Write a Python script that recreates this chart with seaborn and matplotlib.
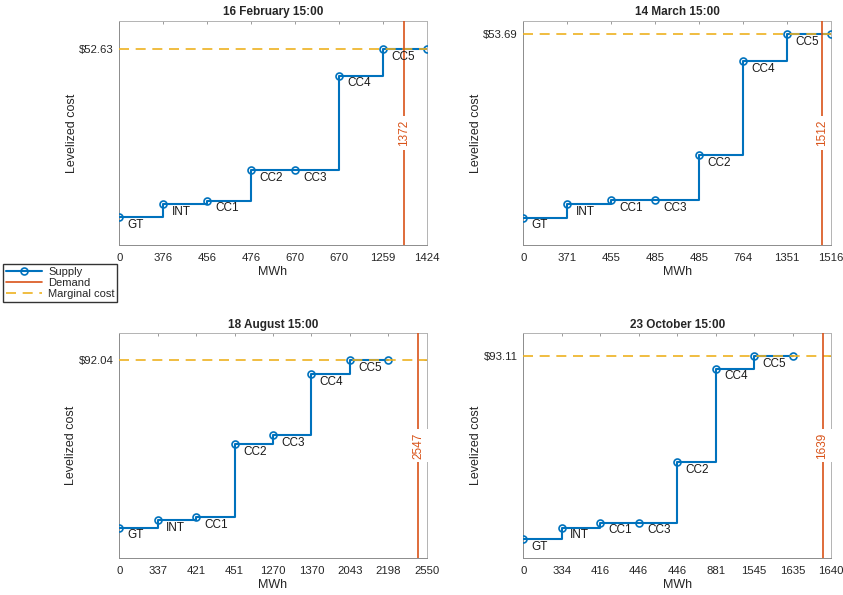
import numpy as np
import pandas as pd
import matplotlib
matplotlib.use("Agg")
import matplotlib.pyplot as plt
from matplotlib.lines import Line2D
import seaborn as sb

sb.set_theme(style="white")
plt.rcParams["font.family"] = ["Liberation Sans", "DejaVu Sans"]

titles = ["16 February 15:00", "14 March 15:00", "18 August 15:00", "23 October 15:00"]

# x tick labels (MWh)
feb_ticks = [0, 376, 456, 476, 670, 670, 1259, 1424]
mar_ticks = [0, 371, 455, 485, 485, 764, 1351, 1516]
aug_ticks = [0, 337, 421, 451, 1270, 1370, 2043, 2198, 2550]
oct_ticks = [0, 334, 416, 446, 446, 881, 1545, 1635, 1640]

# units in merit order
feb_units = ["GT", "INT", "CC1", "CC2", "CC3", "CC4", "CC5"]
mar_units = ["GT", "INT", "CC1", "CC3", "CC2", "CC4", "CC5"]
aug_units = ["GT", "INT", "CC1", "CC2", "CC3", "CC4", "CC5"]
oct_units = ["GT", "INT", "CC1", "CC3", "CC2", "CC4", "CC5"]

# levelized cost per unit
feb_cost = [7.43, 11.01, 11.91, 20.14, 20.14, 45.56, 52.63]
mar_cost = [6.95, 10.43, 11.45, 11.45, 22.90, 46.90, 53.69]
aug_cost = [13.97, 17.54, 18.78, 52.93, 57.12, 85.52, 92.04]
oct_cost = [8.62, 13.85, 16.16, 16.16, 44.02, 87.27, 93.11]

demand = [1372, 1512, 2547, 1639]
demand_pos = [6.49, 6.79, 7.78, 7.78]  # position of demand line on the tick axis
marginal = [52.63, 53.69, 92.04, 93.11]
ytop = [60.24, 57.08, 104.46, 103.58]

ticks = [feb_ticks, mar_ticks, aug_ticks, oct_ticks]
units = [feb_units, mar_units, aug_units, oct_units]
costs = [feb_cost, mar_cost, aug_cost, oct_cost]

blue = "#0072BD"
orange = "#D95319"
yellow = "#EDB120"

fig = plt.figure(figsize=(8.43, 5.95), dpi=100)
rects = [
    [119.3 / 843, 1 - 245 / 595, 307.4 / 843, 224 / 595],
    [523.3 / 843, 1 - 245 / 595, 307.7 / 843, 224 / 595],
    [119.3 / 843, 1 - 557.7 / 595, 307.4 / 843, 224.4 / 595],
    [523.3 / 843, 1 - 557.7 / 595, 307.7 / 843, 224.4 / 595],
]

for k in range(4):
    ax = fig.add_axes(rects[k])
    c = costs[k]
    df = pd.DataFrame({"x": np.arange(len(c) + 1), "y": c + [c[-1]]})
    sb.lineplot(data=df, x="x", y="y", ax=ax, color=blue, lw=1.5,
                drawstyle="steps-post", marker="o", markersize=5,
                markerfacecolor="none", markeredgecolor=blue, markeredgewidth=1.2,
                estimator=None, zorder=3)
    ax.axhline(marginal[k], color=yellow, ls=(0, (6, 4)), lw=1.2, zorder=4)
    ax.axvline(demand_pos[k], color=orange, lw=1.2, zorder=5)
    ax.text(demand_pos[k], ytop[k] / 2, str(demand[k]), rotation=90, color=orange,
            ha="center", va="center", fontsize=8.5, zorder=6,
            bbox=dict(fc="white", ec="none", pad=2.5))
    for i, u in enumerate(units[k]):
        ax.annotate(u, (i, c[i]), xytext=(6, -5.5), textcoords="offset points",
                    ha="left", va="center", fontsize=8.5, color="#1a1a1a", zorder=7)

    n = len(ticks[k]) - 1
    ax.set_xlim(0, n)
    ax.set_ylim(0, ytop[k])
    ax.set_xticks(range(n + 1))
    ax.set_xticklabels([str(t) for t in ticks[k]])
    ax.set_yticks([marginal[k]])
    ax.set_yticklabels(["\\$%.2f" % marginal[k]])
    ax.tick_params(direction="in", length=2.5, width=0.6, labelsize=8.2,
                   color="#8c8c8c", labelcolor="#262626", top=True, right=True)
    ax.tick_params(axis="x", pad=6)
    ax.tick_params(axis="y", pad=4)
    ax.set_xlabel("MWh", fontsize=9, color="#262626", labelpad=2)
    ax.set_ylabel("Levelized cost", fontsize=9, color="#262626", labelpad=1)
    ax.set_title(titles[k], fontsize=8.5, fontweight="bold", pad=4)
    for side, s in ax.spines.items():
        s.set_color("#8c8c8c" if side in ("left", "bottom") else "#b3b3b3")
        s.set_linewidth(0.7)

handles = [
    Line2D([], [], color=blue, lw=1.5, marker="o", markersize=5,
           markerfacecolor="none", markeredgewidth=1.2),
    Line2D([], [], color=orange, lw=1.2),
    Line2D([], [], color=yellow, lw=1.2, ls=(0, (6, 4))),
]
fig.legend(handles, ["Supply", "Demand", "Marginal cost"], loc="upper left",
           bbox_to_anchor=(3 / 843, 1 - 264 / 595), fontsize=8, frameon=True,
           fancybox=False, edgecolor="#333333", framealpha=1, handlelength=3.3,
           borderpad=0.25, labelspacing=0.1, handletextpad=0.5, borderaxespad=0)

plt.savefig("out.png", dpi=100)
